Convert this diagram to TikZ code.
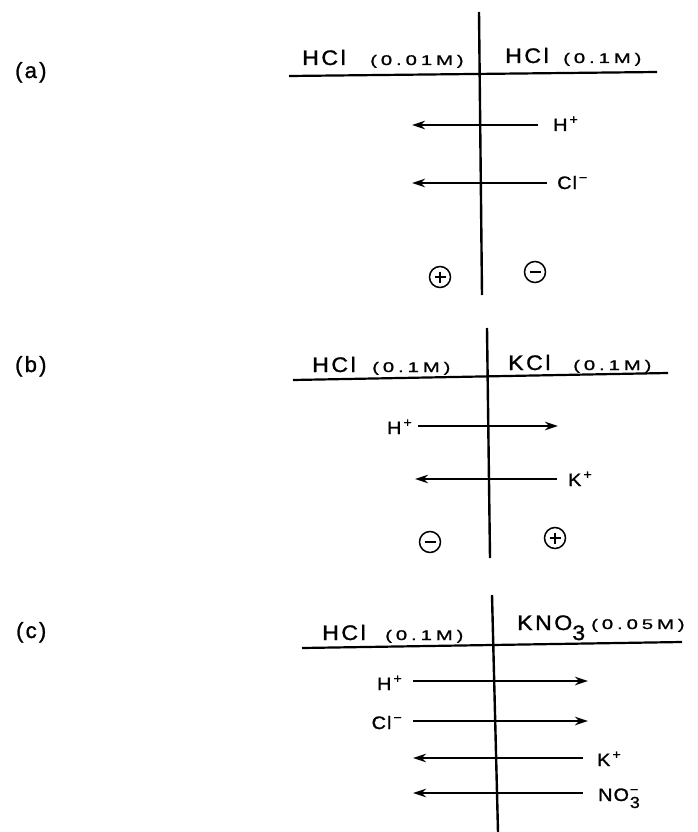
\documentclass[tikz,border=0pt]{standalone}
\usepackage{fontspec}
\setmainfont{Liberation Sans}
\newfontfamily\hdf[LetterSpace=12,FakeStretch=1.1,FakeBold=1.2]{Liberation Sans}
\newfontfamily\smf[LetterSpace=28,FakeStretch=1.45,FakeBold=1.2]{Liberation Sans}
\newfontfamily\ionf[LetterSpace=6,FakeStretch=1.1,FakeBold=1.2]{Liberation Sans}
\newfontfamily\pnf[LetterSpace=10,FakeBold=1.2]{Liberation Sans}
\newcommand\ionsup[1]{\hspace{2pt}\raisebox{7pt}{\fontsize{13}{13}\selectfont #1}}
\usetikzlibrary{arrows.meta}
\begin{document}
\begin{tikzpicture}[x=1pt,y=-1pt,
  hd/.style={inner sep=0pt,anchor=base west,font=\hdf\fontsize{21}{23}\selectfont},
  sm/.style={inner sep=0pt,anchor=base west,font=\smf\fontsize{14}{16}\selectfont},
  ion/.style={inner sep=0pt,font=\ionf\fontsize{18}{20}\selectfont},
  panel/.style={inner sep=0pt,anchor=base west,font=\pnf\fontsize{22}{24}\selectfont},
  wall/.style={line width=2.4pt},
  surf/.style={line width=2.2pt},
  arr/.style={line width=1.6pt,-{Stealth[length=13pt,width=8.5pt,inset=4pt]}},
  pm/.style={circle,draw,line width=1.5pt,minimum size=21pt,inner sep=0pt},
  pluscirc/.style={pm,path picture={\draw[line width=1.5pt]
     ([xshift=5pt]path picture bounding box.west) -- ([xshift=-5pt]path picture bounding box.east)
     ([yshift=-5pt]path picture bounding box.north) -- ([yshift=5pt]path picture bounding box.south);}},
  minuscirc/.style={pm,path picture={\draw[line width=1.5pt]
     ([xshift=5pt]path picture bounding box.west) -- ([xshift=-5pt]path picture bounding box.east);}}
]
\useasboundingbox (0,0) rectangle (697,832);

% ---------------- (a)
\node[panel] (la) at (15,78) {(a)};
\coordinate (aT) at (479,12); \coordinate (aB) at (482,295);
\coordinate (aL) at (289,76); \coordinate (aR) at (657,72);
\draw[wall] (aT) -- (aB);
\draw[surf] (aL) -- (aR);
\node[hd] (a1) at (302,65) {HCl};
\node[sm] (a2) at (370,65) {(0.01M)};
\node[hd] (a3) at (505,63) {HCl};
\node[sm] (a4) at (563,63) {(0.1M)};
\node[ion,anchor=base west] (aH) at (553,131) {H\ionsup{+}};
\coordinate (aHe) at (412,125);
\draw[arr,shorten <=15pt] (aH.west |- aHe) -- (aHe);
\node[ion,anchor=base west] (aC) at (557,189) {Cl\ionsup{−}};
\coordinate (aCe) at (412,183);
\draw[arr,shorten <=10pt] (aC.west |- aCe) -- (aCe);
\node[pluscirc] (ap) at (440,277) {};
\node[minuscirc] (am) at (535,272) {};

% ---------------- (b)
\node[panel] (lb) at (15,372) {(b)};
\coordinate (bT) at (487,328); \coordinate (bB) at (490,558);
\coordinate (bL) at (293,380); \coordinate (bR) at (668,373);
\draw[wall] (bT) -- (bB);
\draw[surf] (bL) -- (bR);
\node[hd] (b1) at (312,372) {HCl};
\node[sm] (b2) at (372,372) {(0.1M)};
\node[hd] (b3) at (508,370) {KCl};
\node[sm] (b4) at (573,370) {(0.1M)};
\node[ion,anchor=base east] (bH) at (412,434) {H\ionsup{+}};
\coordinate (bHe) at (558,426);
\draw[arr,shorten <=6pt] (bH.east |- bHe) -- (bHe);
\node[ion,anchor=base west] (bK) at (568,486) {K\ionsup{+}};
\coordinate (bKe) at (415,479);
\draw[arr,shorten <=11pt] (bK.west |- bKe) -- (bKe);
\node[minuscirc] (bm) at (430,542) {};
\node[pluscirc] (bp) at (555,538) {};

% ---------------- (c)
\node[panel] (lc) at (16,638) {(c)};
\coordinate (cT) at (492,595); \coordinate (cB) at (498,832);
\coordinate (cL) at (302,648); \coordinate (cR) at (682,642);
\draw[wall] (cT) -- (cB);
\draw[surf] (cL) -- (cR);
\node[hd] (c1) at (322,640) {HCl};
\node[sm] (c2) at (385,640) {(0.1M)};
\node[hd] (c3) at (517,630) {KNO\raisebox{-10pt}{3}};
\node[sm] (c4) at (591,629) {(0.05M)};
\node[ion,anchor=base east] (cH) at (402,690) {H\ionsup{+}};
\coordinate (cHe) at (588,681);
\draw[arr,shorten <=11pt] (cH.east |- cHe) -- (cHe);
\node[ion,anchor=base east] (cC) at (402,729) {Cl\ionsup{−}};
\coordinate (cCe) at (588,721);
\draw[arr,shorten <=11pt] (cC.east |- cCe) -- (cCe);
\node[ion,anchor=base west] (cK) at (597,766) {K\ionsup{+}};
\coordinate (cKe) at (413,758);
\draw[arr,shorten <=14pt] (cK.west |- cKe) -- (cKe);
\node[ion,anchor=base west] (cN) at (598,801) {NO\hspace{1pt}\rlap{\raisebox{7pt}{\fontsize{13}{13}\selectfont −}}\raisebox{-7pt}{\fontsize{16}{16}\selectfont 3}};
\coordinate (cNe) at (413,793);
\draw[arr,shorten <=15pt] (cN.west |- cNe) -- (cNe);
\end{tikzpicture}
\end{document}
